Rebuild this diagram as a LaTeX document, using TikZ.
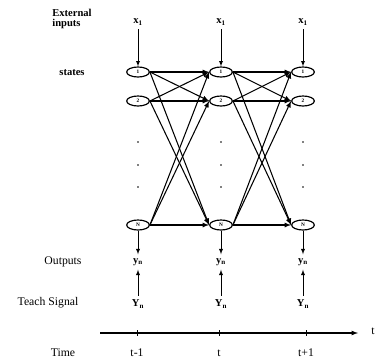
\documentclass[tikz,border=0pt]{standalone}
\usepackage{fontspec}
\setmainfont{Liberation Serif}
\usetikzlibrary{shapes,arrows,positioning}

\begin{document}
\begin{tikzpicture}[
    x=0.03cm, y=-0.03cm,
    state/.style={draw, line width=1pt, ellipse, minimum width=0.68cm, minimum height=0.3cm, inner sep=0pt, font=\fontsize{4.5}{5}\selectfont\bfseries},
    signal/.style={font=\small\bfseries},
    rowlabel/.style={font=\normalsize},
    smalllabel/.style={font=\small\bfseries, align=left},
    arrow/.style={-latex, line width=0.9pt},
    vert/.style={-latex, semithick}
]
\useasboundingbox (0,0) rectangle (385,362);
% row labels
\node[smalllabel] (extlbl) at (72,19) {External\\[-3pt]inputs};
\node[smalllabel] (statelbl) at (72,73) {states};
\node[rowlabel] (outlbl) at (63,262) {Outputs};
\node[rowlabel] (teachlbl) at (48,303) {Teach Signal};
\node[rowlabel] (timelbl) at (63,353) {Time};
% one column per time step
\foreach \c/\xc in {a/138, b/221, c/303} {
    \node[signal] (\c x) at (\xc,22) {x\textsubscript{1}};
    \node[state] (\c1) at (\xc,72) {1};
    \node[state] (\c2) at (\xc,101) {2};
    \node[state] (\c N) at (\xc,225) {N};
    \node[signal] (\c y) at (\xc,262) {y\textsubscript{n}};
    \node[signal] (\c Y) at (\xc,304) {Y\textsubscript{n}};
    \draw[vert] (\c x) -- (\c1);
    \draw[vert] (\c N) -- (\c y);
    \draw[vert] (\c Y) -- (\c y);
    \foreach \yc in {142,165,187} \fill (\xc,\yc) circle (0.8pt);
}
% recurrent links
\foreach \s/\t in {a/b, b/c}
    \foreach \i in {1,2,N}
        \foreach \j in {1,2,N}
            \draw[arrow] (\s\i.east) -- (\t\j.west);
% time axis
\coordinate (tstart) at (100,333);
\coordinate (tend) at (358,333);
\draw[arrow] (tstart) -- (tend);
\node[rowlabel] (tlbl) at (373,331) {t};
\foreach \xc/\lab [count=\k] in {137/t-1, 219/t, 306/t+1} {
    \draw[thick] (\xc,330) -- (\xc,336);
    \node[rowlabel] (tick\k) at (\xc,353) {\lab};
}
\end{tikzpicture}
\end{document}
